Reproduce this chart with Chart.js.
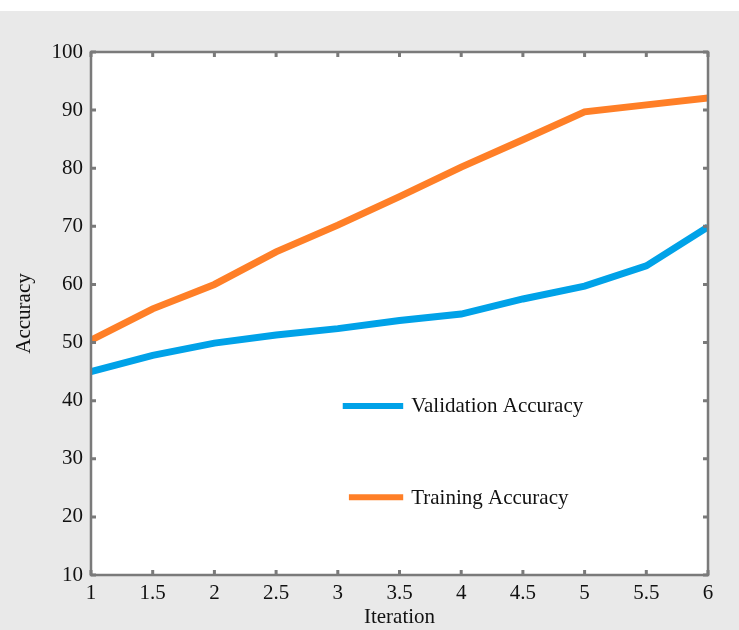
<!DOCTYPE html>
<html>
<head>
<meta charset="utf-8">
<script src="https://cdn.jsdelivr.net/npm/chart.js@4"></script>
<style>
  html, body { margin: 0; padding: 0; background: #ffffff; }
  #wrap { width: 739px; height: 630px; }
</style>
</head>
<body>
<div id="wrap"><canvas id="chart" width="739" height="630"></canvas></div>
<script>
// values
const iterations = [1, 1.5, 2, 2.5, 3, 3.5, 4, 4.5, 5, 5.5, 6];
const trainingAccuracy = [50.4, 55.8, 60, 65.6, 70.2, 75.1, 80.2, 84.9, 89.7, 90.9, 92.1];
const validationAccuracy = [45, 47.8, 49.9, 51.3, 52.4, 53.8, 54.9, 57.5, 59.7, 63.2, 69.9];
const yTicks = [10, 20, 30, 40, 50, 60, 70, 80, 90, 100];
const xTicks = [1, 1.5, 2, 2.5, 3, 3.5, 4, 4.5, 5, 5.5, 6];

const legendItems = [
  { label: 'Validation Accuracy', color: '#00a2e8' },
  { label: 'Training Accuracy', color: '#ff7f27' },
];

const serif = '"Liberation Serif", "DejaVu Serif", serif';

const toPoints = (values) => values.map((v, i) => ({ x: iterations[i], y: v }));

// gray page with a thin white strip on top
const backdrop = {
  id: 'backdrop',
  beforeDraw(chart) {
    const { ctx, width, height, chartArea } = chart;
    ctx.save();
    ctx.fillStyle = '#e9e9e9';
    ctx.fillRect(0, 11, width, height - 11);
    ctx.fillStyle = '#ffffff';
    ctx.fillRect(chartArea.left, chartArea.top, chartArea.right - chartArea.left, chartArea.bottom - chartArea.top);
    ctx.restore();
  },
};

// box around the plot with inward tick marks on every side
const frame = {
  id: 'frame',
  afterDatasetsDraw(chart) {
    const { ctx, chartArea: a, scales } = chart;
    ctx.save();
    ctx.strokeStyle = '#7a7a7a';
    ctx.lineWidth = 2.5;
    ctx.strokeRect(a.left, a.top, a.right - a.left, a.bottom - a.top);
    ctx.lineWidth = 3;
    const len = 5;
    ctx.beginPath();
    xTicks.forEach((t) => {
      const px = scales.x.getPixelForValue(t);
      ctx.moveTo(px, a.bottom); ctx.lineTo(px, a.bottom - len);
      ctx.moveTo(px, a.top); ctx.lineTo(px, a.top + len);
    });
    yTicks.forEach((t) => {
      const py = scales.y.getPixelForValue(t);
      ctx.moveTo(a.left, py); ctx.lineTo(a.left + len, py);
      ctx.moveTo(a.right, py); ctx.lineTo(a.right - len, py);
    });
    ctx.stroke();
    ctx.restore();
  },
};

// legend lines written inside the plot, placed at data coordinates
const innerLegend = {
  id: 'innerLegend',
  afterDatasetsDraw(chart) {
    const { ctx, scales } = chart;
    const spots = [
      { x0: 3.04, x1: 3.53, y: 39.1 },
      { x0: 3.09, x1: 3.53, y: 23.4 },
    ];
    ctx.save();
    ctx.font = '21px ' + serif;
    ctx.textBaseline = 'middle';
    legendItems.forEach((item, i) => {
      const s = spots[i];
      const y = scales.y.getPixelForValue(s.y);
      ctx.strokeStyle = item.color;
      ctx.lineWidth = 6;
      ctx.beginPath();
      ctx.moveTo(scales.x.getPixelForValue(s.x0), y);
      ctx.lineTo(scales.x.getPixelForValue(s.x1), y);
      ctx.stroke();
      ctx.fillStyle = '#111111';
      ctx.fillText(item.label, scales.x.getPixelForValue(s.x1) + 8, y + 1);
    });
    ctx.restore();
  },
};

new Chart(document.getElementById('chart'), {
  type: 'line',
  data: {
    datasets: [
      {
        label: 'Training Accuracy',
        data: toPoints(trainingAccuracy),
        borderColor: '#ff7f27',
        borderWidth: 7,
        pointRadius: 0,
        tension: 0,
      },
      {
        label: 'Validation Accuracy',
        data: toPoints(validationAccuracy),
        borderColor: '#00a2e8',
        borderWidth: 7,
        pointRadius: 0,
        tension: 0,
      },
    ],
  },
  options: {
    responsive: false,
    animation: false,
    layout: { padding: { left: 0, top: 52, right: 31, bottom: 0 } },
    plugins: { legend: { display: false }, tooltip: { enabled: false } },
    scales: {
      x: {
        type: 'linear',
        min: 1,
        max: 6,
        afterBuildTicks: (scale) => { scale.ticks = xTicks.map((v) => ({ value: v })); },
        afterFit: (scale) => { scale.height = 55; },
        grid: { display: false, drawTicks: false },
        border: { display: false },
        ticks: {
          color: '#111111',
          padding: 6,
          font: { family: serif, size: 21 },
          callback: (v) => String(v),
        },
        title: {
          display: true,
          text: 'Iteration',
          color: '#111111',
          padding: { top: 0, bottom: 0 },
          font: { family: serif, size: 21 },
        },
      },
      y: {
        min: 10,
        max: 100,
        afterBuildTicks: (scale) => { scale.ticks = yTicks.map((v) => ({ value: v })); },
        afterFit: (scale) => { scale.width = 91; },
        grid: { display: false, drawTicks: false },
        border: { display: false },
        ticks: { color: '#111111', padding: 8, font: { family: serif, size: 21 } },
        title: {
          display: true,
          text: 'Accuracy',
          color: '#111111',
          padding: { top: 12, bottom: 0 },
          font: { family: serif, size: 21 },
        },
      },
    },
  },
  plugins: [backdrop, frame, innerLegend],
});
</script>
</body>
</html>
